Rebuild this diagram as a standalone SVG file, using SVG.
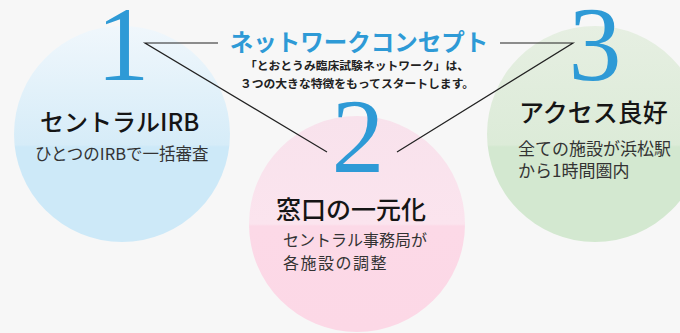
<svg xmlns="http://www.w3.org/2000/svg" width="680" height="333" viewBox="0 0 680 333">
<style>
.jp{font-family:"Noto Sans CJK JP","Noto Sans",sans-serif}
.title{font-size:24px;font-weight:500;fill:#151515}
.sub{font-size:16px;fill:#333}
.num{font-family:"Liberation Serif",serif;font-size:106px;fill:#2e9ad6;text-anchor:middle}
.line{stroke:#222;stroke-width:1.2;fill:none}
</style>
<defs>
<linearGradient id="gB" x1="0" y1="0" x2="0" y2="1">
<stop offset="0" stop-color="#f0f7fc"/><stop offset="0.55" stop-color="#d6ecf8"/><stop offset="0.56" stop-color="#cde9f8"/><stop offset="1" stop-color="#cde9f8"/>
</linearGradient>
<linearGradient id="gP" x1="0" y1="0" x2="0" y2="1">
<stop offset="0" stop-color="#f8e2ec"/><stop offset="0.5" stop-color="#fbe4ee"/><stop offset="0.51" stop-color="#fcd9e7"/><stop offset="1" stop-color="#fcd8e6"/>
</linearGradient>
<linearGradient id="gG" x1="0" y1="0" x2="0" y2="1">
<stop offset="0" stop-color="#e6efe2"/><stop offset="0.55" stop-color="#dcebd8"/><stop offset="0.56" stop-color="#d3e8d0"/><stop offset="1" stop-color="#d3e8d0"/>
</linearGradient>
</defs>
<rect width="680" height="333" fill="#f7f7f7"/>
<g id="node1">
<circle cx="122" cy="134" r="108" fill="url(#gB)"/>
<text class="num" x="123" y="80">1</text>
<text class="jp title" x="40" y="131" font-size="22">セントラルIRB</text>
<text class="jp sub" x="35" y="160" style="font-size:16.5px">ひとつのIRBで一括審査</text>
</g>
<g id="node2">
<circle cx="357" cy="224" r="108" fill="url(#gP)"/>
<text class="num" x="358" y="172">2</text>
<text class="jp title" x="276" y="219" style="font-size:25px">窓口の一元化</text>
<text class="jp sub" x="283" y="246">セントラル事務局が</text>
<text class="jp sub" x="283" y="269" letter-spacing="1.5">各施設の調整</text>
</g>
<g id="node3">
<circle cx="595" cy="134" r="108" fill="url(#gG)"/>
<text class="num" x="595" y="80">3</text>
<text class="jp title" x="519" y="122" style="font-size:25px">アクセス良好</text>
<text class="jp sub" x="518" y="155" style="font-size:17px">全ての施設が浜松駅</text>
<text class="jp sub" x="518" y="177" style="font-size:17px">から1時間圏内</text>
</g>
<g id="concept">
<text class="jp" x="359" y="51" text-anchor="middle" font-size="23.5" font-weight="bold" fill="#2e9ad6">ネットワークコンセプト</text>
<text class="jp" x="357" y="70" text-anchor="middle" font-size="11.8" font-weight="bold" fill="#222">「とおとうみ臨床試験ネットワーク」は、</text>
<text class="jp" x="357" y="88" text-anchor="middle" font-size="11.8" font-weight="bold" fill="#222">３つの大きな特徴をもってスタートします。</text>
</g>
<g id="connectors">
<polyline class="line" points="218,43 145,43 327,152"/>
<polyline class="line" points="500,43 573,43 397,152"/>
</g>
</svg>
